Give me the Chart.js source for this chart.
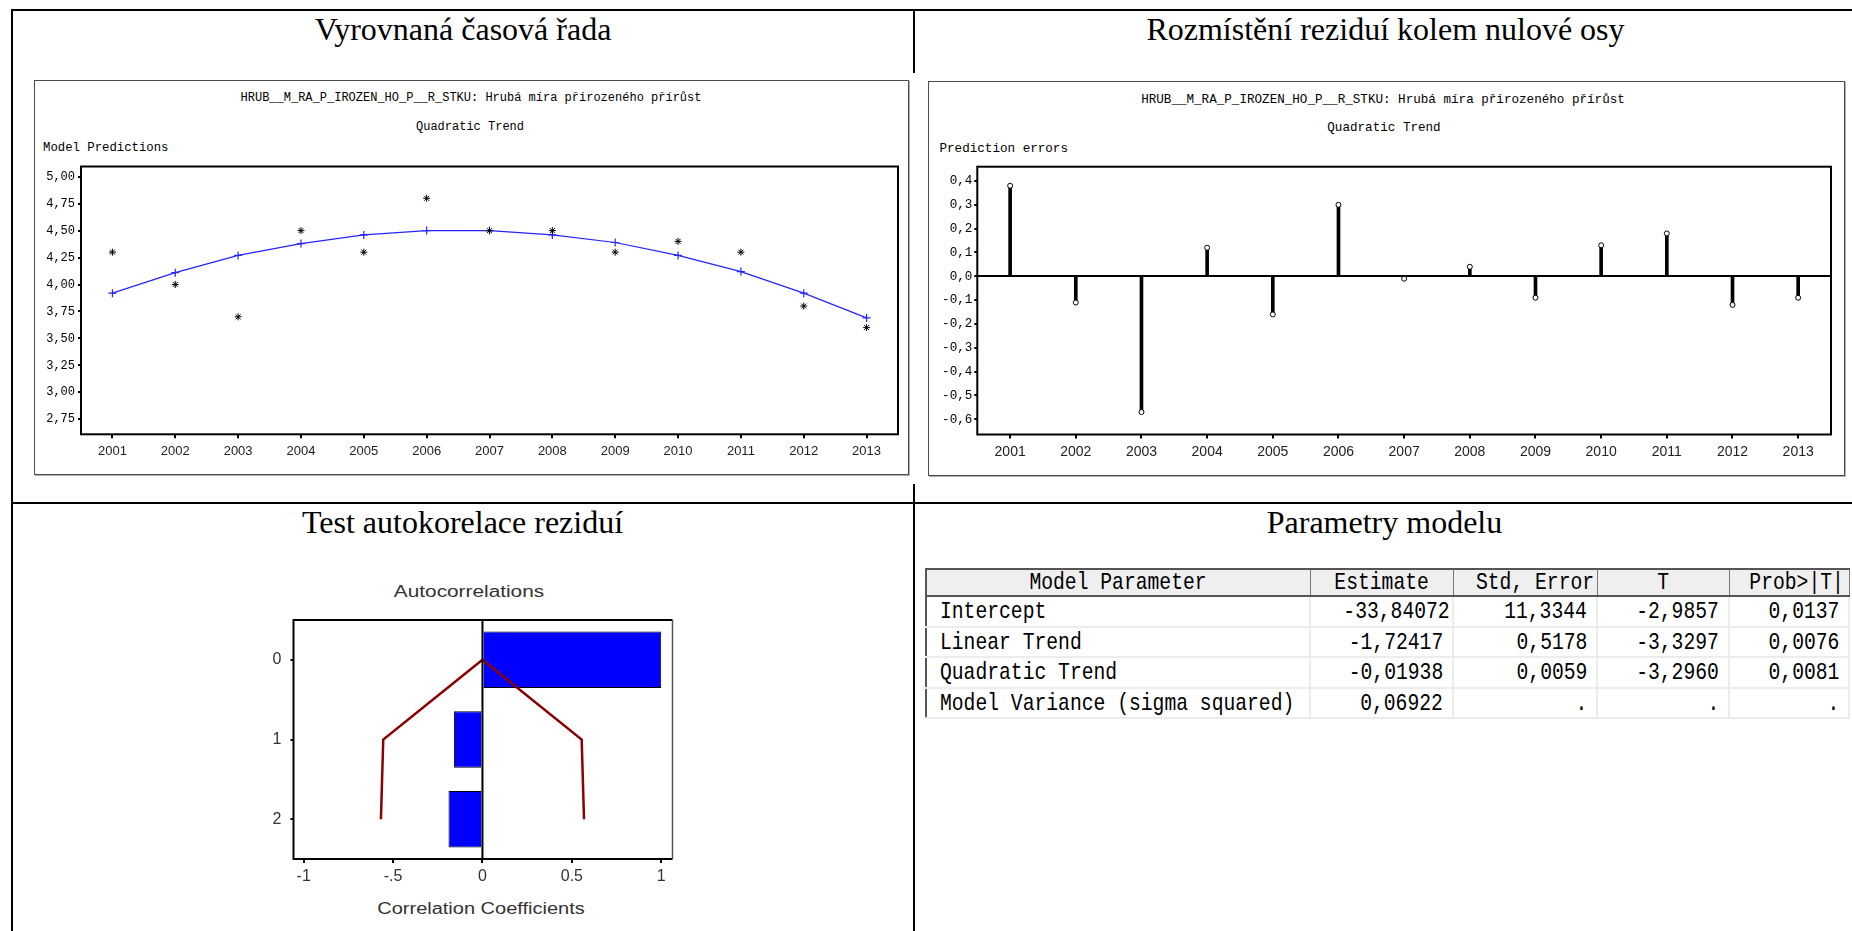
<!DOCTYPE html>
<html>
<head>
<meta charset="utf-8">
<title>Hrubá míra přirozeného přírůstku – kvadratický trend</title>
<script src="https://cdn.jsdelivr.net/npm/chart.js@4/dist/chart.umd.min.js"></script>
<style>
  html, body { margin: 0; padding: 0; background: #fff; }
  body { width: 1852px; height: 931px; position: relative; overflow: hidden; }
  .rule { position: absolute; background: #000; }
  .cell-title { position: absolute; font-family: 'Liberation Serif', 'Times New Roman', serif; font-size: 32px;
                line-height: 32px; white-space: nowrap; transform: translateX(-50%); color: #000; }
  .frame { position: absolute; box-sizing: border-box; border: 1px solid #4c4c4c; box-shadow: 1px 1px 0 #b0b0b0; background: #fff; }
  .sas { position: absolute; font-family: 'Liberation Mono', monospace; line-height: 1; white-space: nowrap; color: #000; }
  .mid { transform: translate(-50%, -50%); }
  .left { transform: translateY(-50%); }
  .plot { position: absolute; }
  .acf-label { position: absolute; font-family: 'Liberation Sans', Arial, sans-serif; font-size: 16px; line-height: 1;
               white-space: nowrap; color: #333; }
  #params { position: absolute; left: 925px; top: 568px; width: 923px; border-collapse: collapse; table-layout: fixed;
            font-family: 'Liberation Mono', monospace; font-size: 24px; color: #000; }
  #params th, #params td { padding: 0 9px; white-space: nowrap; overflow: visible; line-height: 24px; }
  #params th { height: 25px; background: #efefef; font-weight: normal; text-align: center;
               border: 1px solid #7a7a7a; border-top: 2px solid #555; border-bottom: 2px solid #555; }
  #params td { height: 26.5px; padding-top: 2px; text-align: right; border: 2px solid #ececec; }
  #params td:first-child { text-align: left; padding-left: 13px; border-left: 2px solid #555; }
  #params th:first-child { border-left: 2px solid #555; }
  #params .sq { display: inline-block; transform: scaleX(0.82); }
  #params th .sq { transform-origin: center; }
  #params td .sq { transform-origin: right; }
  #params td:first-child .sq { transform-origin: left; }
</style>
</head>
<body>

<!-- table grid lines -->
<div class="rule" style="left:11px; top:9px; width:1841px; height:2px;"></div>
<div class="rule" style="left:11px; top:9px; width:2px; height:922px;"></div>
<div class="rule" style="left:913px; top:10px; width:2px; height:63px;"></div>
<div class="rule" style="left:913px; top:484px; width:2px; height:447px;"></div>
<div class="rule" style="left:11px; top:502px; width:1841px; height:2px;"></div>

<!-- cell headings -->
<div class="cell-title" style="left:463px; top:13px;">Vyrovnaná časová řada</div>
<div class="cell-title" style="left:1385.5px; top:13px;">Rozmístění reziduí kolem nulové osy</div>
<div class="cell-title" style="left:462.5px; top:505.5px;">Test autokorelace reziduí</div>
<div class="cell-title" style="left:1384.5px; top:505.5px;">Parametry modelu</div>

<!-- fitted series panel -->
<div class="frame" style="left:34px; top:80px; width:875px; height:395px;"></div>
<div class="sas mid" style="left:471px; top:98px; font-size:12px;">HRUB__M_RA_P_IROZEN_HO_P__R_STKU: Hrubá míra přirozeného přírůst</div>
<div class="sas mid" style="left:470px; top:126.5px; font-size:12px;">Quadratic Trend</div>
<div class="sas left" style="left:43px; top:147.5px; font-size:12.3px;">Model Predictions</div>
<div class="plot" style="left:34px; top:150px; width:870px; height:320px;"><canvas id="trendChart"></canvas></div>

<!-- residual panel -->
<div class="frame" style="left:928px; top:81px; width:917px; height:395px;"></div>
<div class="sas mid" style="left:1383px; top:100px; font-size:12.6px;">HRUB__M_RA_P_IROZEN_HO_P__R_STKU: Hrubá míra přirozeného přírůst</div>
<div class="sas mid" style="left:1384px; top:127.7px; font-size:12.6px;">Quadratic Trend</div>
<div class="sas left" style="left:939.5px; top:149px; font-size:12.6px;">Prediction errors</div>
<div class="plot" style="left:930px; top:150px; width:906px; height:320px;"><canvas id="errorChart"></canvas></div>

<!-- autocorrelation panel -->
<div class="acf-label" style="left:468.5px; top:592px; transform:translate(-50%,-50%) scaleX(1.3);">Autocorrelations</div>
<div class="plot" style="left:240px; top:612px; width:445px; height:280px;"><canvas id="acfChart"></canvas></div>
<div class="acf-label" style="left:480.5px; top:909px; transform:translate(-50%,-50%) scaleX(1.25);">Correlation Coefficients</div>

<!-- parameter table -->
<table id="params">
  <colgroup><col style="width:384px"><col style="width:143px"><col style="width:144px"><col style="width:132px"><col style="width:120px"></colgroup>
  <thead><tr id="paramHead"></tr></thead>
  <tbody id="paramBody"></tbody>
</table>

<script>
// Crude rate of natural increase, 2001–2013, with its quadratic trend
const years = ['2001','2002','2003','2004','2005','2006','2007','2008','2009','2010','2011','2012','2013'];
const observedRate = [4.3, 4.0, 3.7, 4.5, 4.3, 4.8, 4.5, 4.5, 4.3, 4.4, 4.3, 3.8, 3.6];
const trendRate = [3.92, 4.11, 4.27, 4.38, 4.46, 4.50, 4.50, 4.46, 4.39, 4.27, 4.12, 3.92, 3.69];
const rateTicks = [2.75, 3.00, 3.25, 3.50, 3.75, 4.00, 4.25, 4.50, 4.75, 5.00];

// Prediction errors of the trend model
const predictionErrors = [0.38, -0.11, -0.57, 0.12, -0.16, 0.30, -0.01, 0.04, -0.09, 0.13, 0.18, -0.12, -0.09];
const errorTicks = [-0.6, -0.5, -0.4, -0.3, -0.2, -0.1, 0.0, 0.1, 0.2, 0.3, 0.4];

// Residual autocorrelations with their two-standard-error limits
const lags = ['0', '1', '2'];
const autocorrelations = [1.0, -0.16, -0.19];
const upperLimit = [0, 0.555, 0.568];
const lowerLimit = [0, -0.555, -0.568];
const coefTicks = [-1, -0.5, 0, 0.5, 1];
const coefTickLabels = ['-1', '-.5', '0', '0.5', '1'];

// Model parameter estimates
const paramHeaders = ['Model Parameter', 'Estimate', 'Std, Error', 'T', 'Prob>|T|'];
const paramNames = ['Intercept', 'Linear Trend', 'Quadratic Trend', 'Model Variance (sigma squared)'];
const paramEstimates = ['-33,84072', '-1,72417', '-0,01938', '0,06922'];
const paramStdErrors = ['11,3344', '0,5178', '0,0059', '.'];
const paramT = ['-2,9857', '-3,3297', '-3,2960', '.'];
const paramProb = ['0,0137', '0,0076', '0,0081', '.'];

// ---- parameter table ----
const head = document.getElementById('paramHead');
paramHeaders.forEach(h => {
  const th = document.createElement('th');
  th.innerHTML = '<span class="sq"></span>';
  th.firstChild.textContent = h;
  head.appendChild(th);
});
const body = document.getElementById('paramBody');
paramNames.forEach((name, i) => {
  const tr = document.createElement('tr');
  [name, paramEstimates[i], paramStdErrors[i], paramT[i], paramProb[i]].forEach(v => {
    const td = document.createElement('td');
    td.innerHTML = '<span class="sq"></span>';
    td.firstChild.textContent = v;
    tr.appendChild(td);
  });
  body.appendChild(tr);
});

// ---- shared chart helpers ----
Chart.defaults.font.family = "'Liberation Sans', Arial, sans-serif";
Chart.defaults.color = '#000';

const plotBox = {
  id: 'plotBox',
  afterDatasetsDraw(chart) {
    const { ctx, chartArea: a } = chart;
    ctx.save();
    ctx.strokeStyle = '#000';
    ctx.lineWidth = 2;
    ctx.strokeRect(a.left, a.top, a.right - a.left, a.bottom - a.top);
    ctx.restore();
  }
};

const commaFormat = digits => v => Number(v).toFixed(digits).replace('.', ',');

// fixed axis sizes so the plot areas sit at the same place in every panel
const fixWidth = w => s => { s.width = w; s.paddingTop = 0; s.paddingBottom = 0; };
const fixHeight = h => s => { s.height = h; s.paddingLeft = 0; s.paddingRight = 0; };

function yearAxis(labelSize, height) {
  return {
    type: 'category',
    offset: true,
    border: { display: false },
    grid: { offset: false, drawOnChartArea: false, tickLength: 4, lineWidth: 2, color: '#000' },
    ticks: { autoSkip: false, maxRotation: 0, minRotation: 0, padding: 5, color: '#222',
             font: { family: "'Liberation Sans', Arial, sans-serif", size: labelSize } },
    afterFit: fixHeight(height)
  };
}

// ---- fitted series ----
new Chart(document.getElementById('trendChart'), {
  type: 'line',
  data: {
    labels: years,
    datasets: [
      { data: observedRate, showLine: false, pointStyle: 'star', pointRadius: 3.5,
        pointBorderColor: '#000', pointBorderWidth: 1, borderColor: '#000' },
      { data: trendRate, borderColor: '#2424ff', borderWidth: 1.2, tension: 0, fill: false,
        pointStyle: 'cross', pointRadius: 4, pointBorderColor: '#2424ff', pointBorderWidth: 1.2 }
    ]
  },
  options: {
    animation: false, responsive: true, maintainAspectRatio: false,
    layout: { autoPadding: false, padding: { left: 0, top: 16.5, right: 6, bottom: 0 } },
    plugins: { legend: { display: false }, tooltip: { enabled: false } },
    scales: {
      x: yearAxis(13, 35.7),
      y: {
        type: 'linear', min: 2.61, max: 5.095,
        border: { display: false },
        grid: { drawOnChartArea: false, tickLength: 3, lineWidth: 2, color: '#000' },
        ticks: { padding: 3, color: '#000', font: { family: "'Liberation Mono', monospace", size: 12 },
                 callback: commaFormat(2) },
        afterBuildTicks: s => { s.ticks = rateTicks.map(v => ({ value: v })); },
        afterFit: fixWidth(47)
      }
    }
  },
  plugins: [plotBox]
});

// ---- prediction errors (stems) ----
new Chart(document.getElementById('errorChart'), {
  type: 'bar',
  data: {
    labels: years,
    datasets: [
      { type: 'line', data: predictionErrors, showLine: false, pointStyle: 'circle', pointRadius: 2.5,
        pointBackgroundColor: '#fff', pointBorderColor: '#000', pointBorderWidth: 1 },
      { type: 'bar', data: predictionErrors, backgroundColor: '#000', barThickness: 3 }
    ]
  },
  options: {
    animation: false, responsive: true, maintainAspectRatio: false,
    layout: { autoPadding: false, padding: { left: 0, top: 16.7, right: 5, bottom: 0 } },
    plugins: { legend: { display: false }, tooltip: { enabled: false } },
    scales: {
      x: yearAxis(14, 35.5),
      y: {
        type: 'linear', min: -0.664, max: 0.46,
        border: { display: false },
        grid: { drawOnChartArea: true, tickLength: 3, lineWidth: 2, tickColor: '#000',
                color: c => (c.tick && c.tick.value === 0) ? '#000' : 'rgba(0,0,0,0)' },
        ticks: { padding: 2, color: '#000', font: { family: "'Liberation Mono', monospace", size: 12.6 },
                 callback: commaFormat(1) },
        afterBuildTicks: s => { s.ticks = errorTicks.map(v => ({ value: v })); },
        afterFit: fixWidth(47.3)
      }
    }
  },
  plugins: [plotBox]
});

// ---- residual autocorrelations ----
const acfFrame = {
  id: 'acfFrame',
  afterDatasetsDraw(chart) {
    const { ctx, chartArea: a, scales: { x } } = chart;
    const x0 = x.getPixelForValue(0);
    ctx.save();
    ctx.strokeStyle = '#000';
    ctx.lineWidth = 2;
    ctx.beginPath();
    ctx.moveTo(a.right, a.top); ctx.lineTo(a.left, a.top);
    ctx.lineTo(a.left, a.bottom); ctx.lineTo(a.right, a.bottom);
    ctx.moveTo(x0, a.top); ctx.lineTo(x0, a.bottom);
    ctx.stroke();
    ctx.strokeStyle = '#555';
    ctx.lineWidth = 1.5;
    ctx.beginPath(); ctx.moveTo(a.right, a.top); ctx.lineTo(a.right, a.bottom); ctx.stroke();
    ctx.restore();
  }
};

const limitLine = { type: 'line', borderColor: '#8b0000', borderWidth: 2.5, pointRadius: 0, tension: 0, fill: false };

new Chart(document.getElementById('acfChart'), {
  type: 'bar',
  data: {
    labels: lags,
    datasets: [
      Object.assign({ data: lowerLimit }, limitLine),
      Object.assign({ data: upperLimit }, limitLine),
      { type: 'bar', data: autocorrelations, backgroundColor: '#0000ff', borderColor: '#000', borderWidth: 1,
        categoryPercentage: 1, barPercentage: 0.71 }
    ]
  },
  options: {
    indexAxis: 'y',
    animation: false, responsive: true, maintainAspectRatio: false,
    layout: { autoPadding: false, padding: { left: 0, top: 8, right: 12.5, bottom: 0 } },
    plugins: { legend: { display: false }, tooltip: { enabled: false } },
    scales: {
      x: {
        type: 'linear', min: -1.057, max: 1.063,
        border: { display: false },
        grid: { drawOnChartArea: false, tickLength: 4, lineWidth: 2, color: '#000' },
        ticks: { padding: 4, color: '#333', font: { size: 16 },
                 callback: (v, i) => coefTickLabels[i] },
        afterBuildTicks: s => { s.ticks = coefTicks.map(v => ({ value: v })); },
        afterFit: fixHeight(33)
      },
      y: {
        type: 'category', offset: true,
        border: { display: false },
        grid: { offset: false, drawOnChartArea: false, tickLength: 3, lineWidth: 2, color: '#000' },
        ticks: { padding: 9, color: '#333', font: { size: 16 } },
        afterFit: fixWidth(53.5)
      }
    }
  },
  plugins: [acfFrame]
});
</script>
</body>
</html>
